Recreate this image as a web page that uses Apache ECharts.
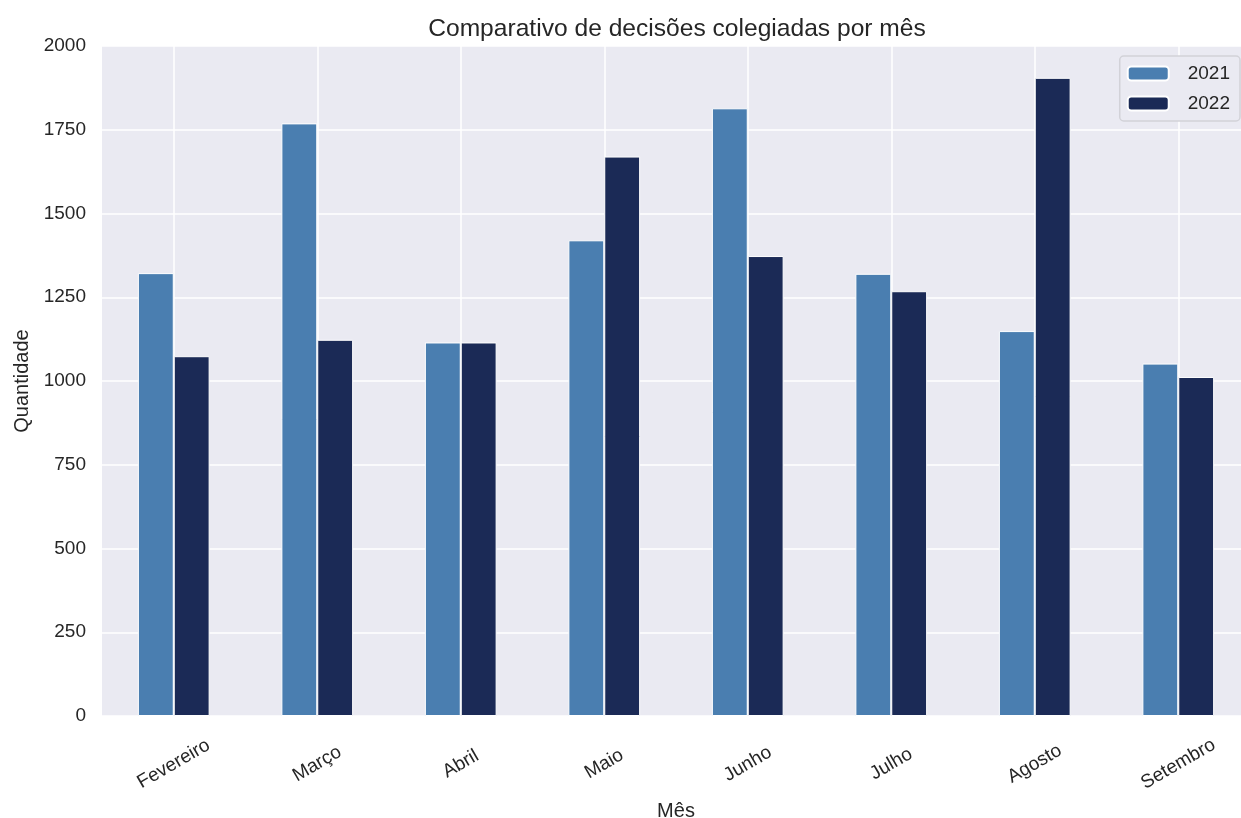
<!DOCTYPE html>
<html>
<head>
<meta charset="utf-8">
<script src="https://cdn.jsdelivr.net/npm/echarts@6/dist/echarts.min.js"></script>
<style>
html,body{margin:0;padding:0;background:#fff;overflow:hidden;}
#chart{width:1241px;height:818px;}
</style>
</head>
<body>
<div id="chart"></div>
<script>
const categories = ['Fevereiro','Março','Abril','Maio','Junho','Julho','Agosto','Setembro'];
const values2021 = [1322, 1769, 1115, 1420, 1814, 1320, 1149, 1052];
const values2022 = [1074, 1123, 1115, 1670, 1373, 1268, 1905, 1012];
const seriesNames = ['2021','2022'];
const yTicks = {min: 0, max: 2000, interval: 250};

const textColor = '#262626';
const font = 'Liberation Sans, Arial, sans-serif';

const chart = echarts.init(document.getElementById('chart'), null, {renderer: 'canvas'});
chart.setOption({
  animation: false,
  backgroundColor: '#ffffff',
  textStyle: {fontFamily: font},
  title: {
    text: 'Comparativo de decisões colegiadas por mês',
    left: 672, top: 12, textAlign: 'center',
    textStyle: {fontSize: 24.6, fontWeight: 'normal', color: textColor, fontFamily: font}
  },
  grid: {
    left: 102, top: 46, width: 1148, height: 670,
    show: true, backgroundColor: '#EAEAF2', borderWidth: 0,
    containLabel: false, outerBoundsMode: 'none'
  },
  legend: {
    orient: 'vertical', right: 1, top: 56,
    data: seriesNames,
    itemWidth: 41, itemHeight: 14, itemGap: 11,
    backgroundColor: '#EAEAF2', borderColor: '#d2d2d8', borderWidth: 1.5, borderRadius: 4,
    padding: [8, 10, 8, 7],
    textStyle: {fontSize: 19, color: textColor, fontFamily: font, padding: [0, 0, 0, 14]}
  },
  xAxis: {
    type: 'category',
    data: categories,
    name: 'Mês', nameLocation: 'middle', nameGap: 85,
    nameTextStyle: {fontSize: 20, color: textColor, fontFamily: font},
    axisLine: {show: false}, axisTick: {show: false, alignWithLabel: true},
    axisLabel: {rotate: 30, fontSize: 19, color: textColor, margin: 48, align: 'center', verticalAlign: 'middle', fontFamily: font},
    splitLine: {show: true, alignWithLabel: true, lineStyle: {color: '#ffffff', width: 1.5}}
  },
  yAxis: {
    type: 'value',
    min: yTicks.min, max: yTicks.max, interval: yTicks.interval,
    name: 'Quantidade', nameLocation: 'middle', nameGap: 65,
    nameTextStyle: {fontSize: 20, color: textColor, fontFamily: font},
    axisLine: {show: false}, axisTick: {show: false},
    axisLabel: {fontSize: 19, color: textColor, margin: 16, fontFamily: font, formatter: function (v) { return String(v); }},
    splitLine: {show: true, lineStyle: {color: '#ffffff', width: 1.5}}
  },
  series: [
    {
      name: seriesNames[0], type: 'bar', data: values2021,
      barWidth: '25%', barGap: '0%',
      itemStyle: {color: '#4A7EB0', borderColor: '#ffffff', borderWidth: 1}
    },
    {
      name: seriesNames[1], type: 'bar', data: values2022,
      barWidth: '25%', barGap: '0%',
      itemStyle: {color: '#1B2A56', borderColor: '#ffffff', borderWidth: 1}
    }
  ]
});
</script>
</body>
</html>
